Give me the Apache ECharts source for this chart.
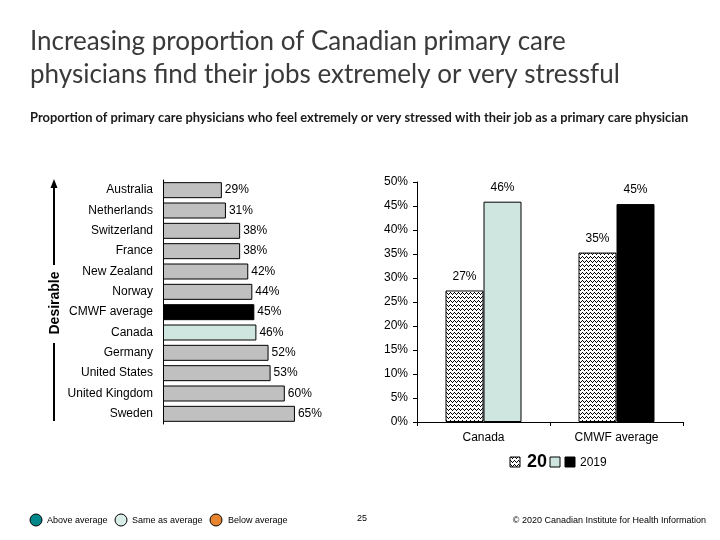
<!DOCTYPE html>
<html><head><meta charset="utf-8">
<script src="https://cdn.jsdelivr.net/npm/echarts@6/dist/echarts.min.js"></script>
<style>html,body{margin:0;padding:0;background:#fff}#c{width:720px;height:540px}</style>
</head><body><div id="c"></div>
<script>
// ---- data ----
const leftCategories = ['Australia','Netherlands','Switzerland','France','New Zealand','Norway','CMWF average','Canada','Germany','United States','United Kingdom','Sweden'];
const leftValues = [29,31,38,38,42,44,45,46,52,53,60,65];
const rightCategories = ['Canada','CMWF average'];
const values2015 = [27.4, 35.3];
const values2019 = [45.9, 45.4];
const rightTicks = [0,5,10,15,20,25,30,35,40,45,50];
const legendOld = '20';
const legendNew = '2019';

// ---- styles ----
const GREY = '#c0c0c0', TEAL = '#cfe6e0', BLACK = '#000000';
const F = 'Liberation Sans, Arial, sans-serif';

function zigPattern(){
  const c = document.createElement('canvas');
  c.width = 4; c.height = 4;
  const x = c.getContext('2d');
  x.fillStyle = '#fff'; x.fillRect(0,0,4,4);
  x.fillStyle = '#000';
  const ys = [2,1,0,1];
  for (let i = 0; i < 4; i++) { x.fillRect(i, ys[i], 1, 1); }
  return c;
}
const zig = {image: zigPattern(), repeat: 'repeat'};

const leftColors = leftCategories.map(c => c === 'Canada' ? TEAL : (c === 'CMWF average' ? BLACK : GREY));
const newColors = rightCategories.map(c => c === 'Canada' ? TEAL : BLACK);

const chart = echarts.init(document.getElementById('c'), null, {renderer:'canvas'});
chart.setOption({
  animation: false,
  backgroundColor: '#fff',
  title: [
    {text: 'Increasing proportion of Canadian primary care\nphysicians find their jobs extremely or very stressful',
     left: 30, top: 25, padding: 0,
     textStyle: {fontFamily: 'Lato, sans-serif', fontSize: 26, fontWeight: 'normal', color: '#3a3a3a', lineHeight: 33}},
    {text: 'Proportion of primary care physicians who feel extremely or very stressed with their job as a primary care physician',
     left: 30, top: 111, padding: 0,
     textStyle: {fontFamily: 'Lato, sans-serif', fontSize: 12.9, fontWeight: 'bold', color: '#1a1a1a'}}
  ],
  grid: [
    {left: 163, top: 180, width: 203, height: 244},
    {left: 417, top: 182, width: 266, height: 240}
  ],
  xAxis: [
    {gridIndex: 0, type: 'value', min: 0, max: 100, show: false},
    {gridIndex: 1, type: 'category', data: rightCategories,
     axisLine: {lineStyle: {color: '#000'}},
     axisTick: {show: true, alignWithLabel: false, length: 4, lineStyle: {color: '#000'}},
     axisLabel: {fontFamily: F, fontSize: 12, color: '#000', margin: 10}}
  ],
  yAxis: [
    {gridIndex: 0, type: 'category', data: leftCategories, inverse: true,
     axisLine: {lineStyle: {color: '#000'}}, axisTick: {show: false},
     axisLabel: {fontFamily: F, fontSize: 12, color: '#000', margin: 10}},
    {gridIndex: 1, type: 'value', min: 0, max: 50, interval: 5,
     axisLine: {show: true, lineStyle: {color: '#000'}},
     axisTick: {show: true, length: 4, lineStyle: {color: '#000'}},
     splitLine: {show: false},
     axisLabel: {fontFamily: F, fontSize: 12, color: '#000', margin: 9, formatter: v => v + '%'}}
  ],
  series: [
    {type: 'bar', xAxisIndex: 0, yAxisIndex: 0, barWidth: 16,
     data: leftValues.map((v,i) => ({value: v, itemStyle: {color: leftColors[i]}})),
     itemStyle: {borderColor: '#000', borderWidth: 1},
     label: {show: true, position: 'right', distance: 3, fontFamily: F, fontSize: 12, color: '#000', formatter: p => p.value + '%'}},
    {type: 'bar', name: legendOld, xAxisIndex: 1, yAxisIndex: 1, barWidth: 38, barGap: '0%',
     data: values2015, itemStyle: {color: zig, borderColor: '#000', borderWidth: 1},
     label: {show: true, position: 'top', distance: 8, fontFamily: F, fontSize: 12, color: '#000', formatter: p => Math.round(p.value) + '%'}},
    {type: 'bar', name: legendNew, xAxisIndex: 1, yAxisIndex: 1, barWidth: 38, barGap: '0%',
     data: values2019.map((v,i) => ({value: v, itemStyle: {color: newColors[i]}})),
     itemStyle: {borderColor: '#000', borderWidth: 1},
     label: {show: true, position: 'top', distance: 8, fontFamily: F, fontSize: 12, color: '#000', formatter: p => Math.round(p.value) + '%'}}
  ],
  graphic: [
    // Desirable arrow
    {type: 'line', shape: {x1: 54, y1: 183, x2: 54, y2: 265}, style: {stroke: '#000', lineWidth: 2}},
    {type: 'polygon', shape: {points: [[54,179],[50.5,188],[57.5,188]]}, style: {fill: '#000'}},
    {type: 'line', shape: {x1: 54, y1: 343, x2: 54, y2: 421}, style: {stroke: '#000', lineWidth: 2}},
    {type: 'text', x: 55, y: 303, rotation: Math.PI/2,
     style: {text: 'Desirable', fontFamily: F, fontSize: 14, fontWeight: 'bold', fill: '#000', align: 'center', verticalAlign: 'middle'}},
    // legend
    {type: 'rect', shape: {x: 510, y: 457, width: 10, height: 10}, style: {fill: zig, stroke: '#000', lineWidth: 1}},
    {type: 'text', x: 527, y: 462, style: {text: legendOld, fontFamily: F, fontSize: 18, fontWeight: 'bold', fill: '#000', verticalAlign: 'middle'}},
    {type: 'rect', shape: {x: 550, y: 457, width: 10, height: 10}, style: {fill: TEAL, stroke: '#000', lineWidth: 1}},
    {type: 'rect', shape: {x: 565, y: 457, width: 10, height: 10}, style: {fill: BLACK, stroke: '#000', lineWidth: 1}},
    {type: 'text', x: 580, y: 463, style: {text: legendNew, fontFamily: F, fontSize: 12, fill: '#000', verticalAlign: 'middle'}},
    // footer
    {type: 'circle', shape: {cx: 36, cy: 520, r: 6}, style: {fill: '#00878a', stroke: '#000', lineWidth: 1}},
    {type: 'text', x: 47, y: 521, style: {text: 'Above average', fontFamily: F, fontSize: 9, fill: '#000', verticalAlign: 'middle'}},
    {type: 'circle', shape: {cx: 121, cy: 520, r: 6}, style: {fill: '#d8ece8', stroke: '#000', lineWidth: 1}},
    {type: 'text', x: 132, y: 521, style: {text: 'Same as average', fontFamily: F, fontSize: 9, fill: '#000', verticalAlign: 'middle'}},
    {type: 'circle', shape: {cx: 216, cy: 520, r: 6}, style: {fill: '#e8832e', stroke: '#000', lineWidth: 1}},
    {type: 'text', x: 228, y: 521, style: {text: 'Below average', fontFamily: F, fontSize: 9, fill: '#000', verticalAlign: 'middle'}},
    {type: 'text', x: 362, y: 519, style: {text: '25', fontFamily: F, fontSize: 9, fill: '#000', align: 'center', verticalAlign: 'middle'}},
    {type: 'text', x: 706, y: 521, style: {text: '© 2020 Canadian Institute for Health Information', fontFamily: F, fontSize: 9, fill: '#000', align: 'right', verticalAlign: 'middle'}}
  ]
});
</script></body></html>
